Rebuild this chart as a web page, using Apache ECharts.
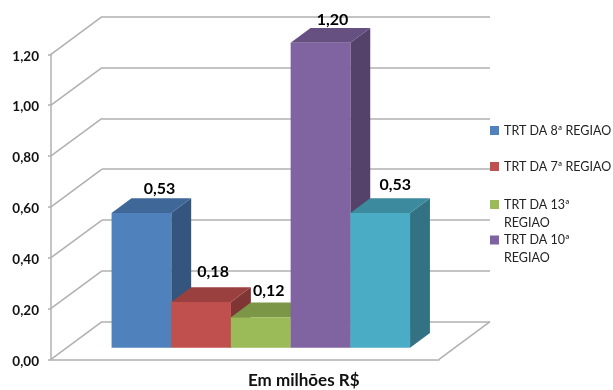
<!DOCTYPE html>
<html>
<head>
<meta charset="utf-8">
<style>html,body{margin:0;padding:0;background:#fff}#chart{width:613px;height:390px;overflow:hidden}</style>
<script src="https://cdn.jsdelivr.net/npm/echarts@6/dist/echarts.min.js"></script>
</head>
<body>
<div id="chart"></div>
<script>
// Chart values
const categories = ['Em milhões R$'];
const seriesNames = ['TRT DA 8ª REGIAO', 'TRT DA 7ª REGIAO', 'TRT DA 13ª\nREGIAO', 'TRT DA 10ª\nREGIAO', 'Outros'];
const seriesValues = [0.53, 0.18, 0.12, 1.20, 0.53];
const seriesColors = ['#4F81BD', '#C0504D', '#9BBB59', '#8064A2', '#4BACC6'];
const yTicks = [0, 0.2, 0.4, 0.6, 0.8, 1.0, 1.2];

// Oblique projection of the box: how far the back wall sits from the front plane
const DEPTH = [51, -37.6];
const BAR_INSET = 0.31;
const BAR_DEPTH = 0.39;
const GAP_WIDTH = 1.5;
const LINE = '#b0b0b0';
const FONT = 'Lato, "Open Sans", sans-serif';
// Offset of each value label from the bar's centre and from its back top edge
const labelShift = [18, 12, 8, 12, 15];
const labelRise = [9, 15, 12, 8, 13];

const comma = v => v.toFixed(2).replace('.', ',');

function shade(hex, k) {
  const n = parseInt(hex.slice(1), 16);
  const c = [n >> 16, (n >> 8) & 255, n & 255].map(x => Math.round(x * k));
  return 'rgb(' + c.join(',') + ')';
}

function renderBar(i) {
  return function (params, api) {
    const value = api.value(1);
    const band = api.size([1, 0])[0];
    const w = band / (seriesValues.length + GAP_WIDTH);
    const base = api.coord([0, 0]);
    const top = api.coord([0, value]);
    const ox = DEPTH[0] * BAR_INSET, oy = DEPTH[1] * BAR_INSET;
    const dx = DEPTH[0] * BAR_DEPTH, dy = DEPTH[1] * BAR_DEPTH;
    const x0 = base[0] + ox + (i - seriesValues.length / 2) * w;
    const x1 = x0 + w;
    const yB = base[1] + oy;
    const yT = top[1] + oy;
    const color = seriesColors[i];
    const poly = (points, fill) => ({ type: 'polygon', shape: { points }, style: { fill } });
    return {
      type: 'group',
      children: [
        poly([[x1, yT], [x1 + dx, yT + dy], [x1 + dx, yB + dy], [x1, yB]], shade(color, 0.66)),
        poly([[x0, yT], [x0 + dx, yT + dy], [x1 + dx, yT + dy], [x1, yT]], shade(color, 0.8)),
        poly([[x0, yT], [x1, yT], [x1, yB], [x0, yB]], color),
        {
          type: 'text',
          x: (x0 + x1) / 2 + labelShift[i],
          y: yT + dy - labelRise[i],
          style: {
            text: comma(value), fill: '#000', font: 'bold 16px ' + FONT,
            align: 'center', verticalAlign: 'middle'
          }
        }
      ]
    };
  };
}

// Slanted lines joining the front axis to the back wall, plus the floor's right edge
function renderConnector(params, api) {
  const v = api.value(0);
  const y = api.coord([0, v])[1];
  const cs = params.coordSys;
  const seg = x => ({
    type: 'line',
    shape: { x1: x, y1: y, x2: x + DEPTH[0], y2: y + DEPTH[1] },
    style: { stroke: LINE, lineWidth: 1.5 }
  });
  const children = [seg(cs.x)];
  if (v === 0) children.push(seg(cs.x + cs.width));
  return { type: 'group', children };
}

// Wrapped entries get a blank first line so the marker sits beside their first text line
const legendTops = [121.5, 157.5, 177.5, 213];
const legends = [0, 1, 2, 3].map(i => ({
  data: [seriesNames[i]],
  left: 490,
  top: legendTops[i],
  icon: 'rect',
  itemWidth: 9,
  itemHeight: 9,
  itemGap: 0,
  padding: 0,
  formatter: name => (name.includes('\n') ? ' \n' : '') + name,
  textStyle: { fontFamily: FONT, fontSize: 12.5, color: '#222', lineHeight: 18 }
}));

const series = [{
  type: 'custom',
  name: 'conectores',
  xAxisIndex: 0,
  yAxisIndex: 0,
  clip: false,
  z: 1,
  silent: true,
  encode: { y: 0 },
  data: yTicks.map(v => [v]),
  renderItem: renderConnector
}];
seriesNames.forEach((name, i) => series.push({
  type: 'custom',
  name,
  xAxisIndex: 0,
  yAxisIndex: 0,
  clip: false,
  z: 3,
  itemStyle: { color: seriesColors[i] },
  encode: { x: 0, y: 1 },
  data: [[0, seriesValues[i]]],
  renderItem: renderBar(i)
}));

const chart = echarts.init(document.getElementById('chart'), null, { renderer: 'canvas' });
chart.setOption({
  animation: false,
  backgroundColor: '#fff',
  title: {
    text: categories[0],
    left: 248,
    top: 372.5,
    padding: 0,
    textStyle: { fontFamily: FONT, fontSize: 17, fontWeight: 'bold', color: '#111' }
  },
  legend: legends,
  grid: [
    { left: 51, right: 174, top: 54.3, bottom: 30.7 },
    { left: 102, right: 123, top: 16.7, bottom: 68.3 }
  ],
  xAxis: [
    {
      type: 'category', gridIndex: 0, data: categories,
      axisLine: { lineStyle: { color: LINE, width: 1.5 } },
      axisTick: { show: false }, axisLabel: { show: false }
    },
    { type: 'category', gridIndex: 1, data: categories, show: false }
  ],
  yAxis: [
    {
      type: 'value', gridIndex: 0, min: 0, max: 1.2, interval: 0.2,
      axisLine: { show: true, lineStyle: { color: LINE, width: 1.5 } },
      axisTick: { show: true, length: 3, lineStyle: { color: LINE, width: 1.5 } },
      axisLabel: {
        margin: 12, fontFamily: FONT, fontSize: 13.5, fontWeight: 'bold', color: '#111',
        rich: {}, padding: [4, 0, 0, 0],
        formatter: comma
      },
      splitLine: { show: false }
    },
    {
      type: 'value', gridIndex: 1, min: 0, max: 1.2, interval: 0.2,
      axisLine: { show: false }, axisTick: { show: false }, axisLabel: { show: false },
      splitLine: { show: true, lineStyle: { color: LINE, width: 1.5 } }
    }
  ],
  series
});
</script>
</body>
</html>
